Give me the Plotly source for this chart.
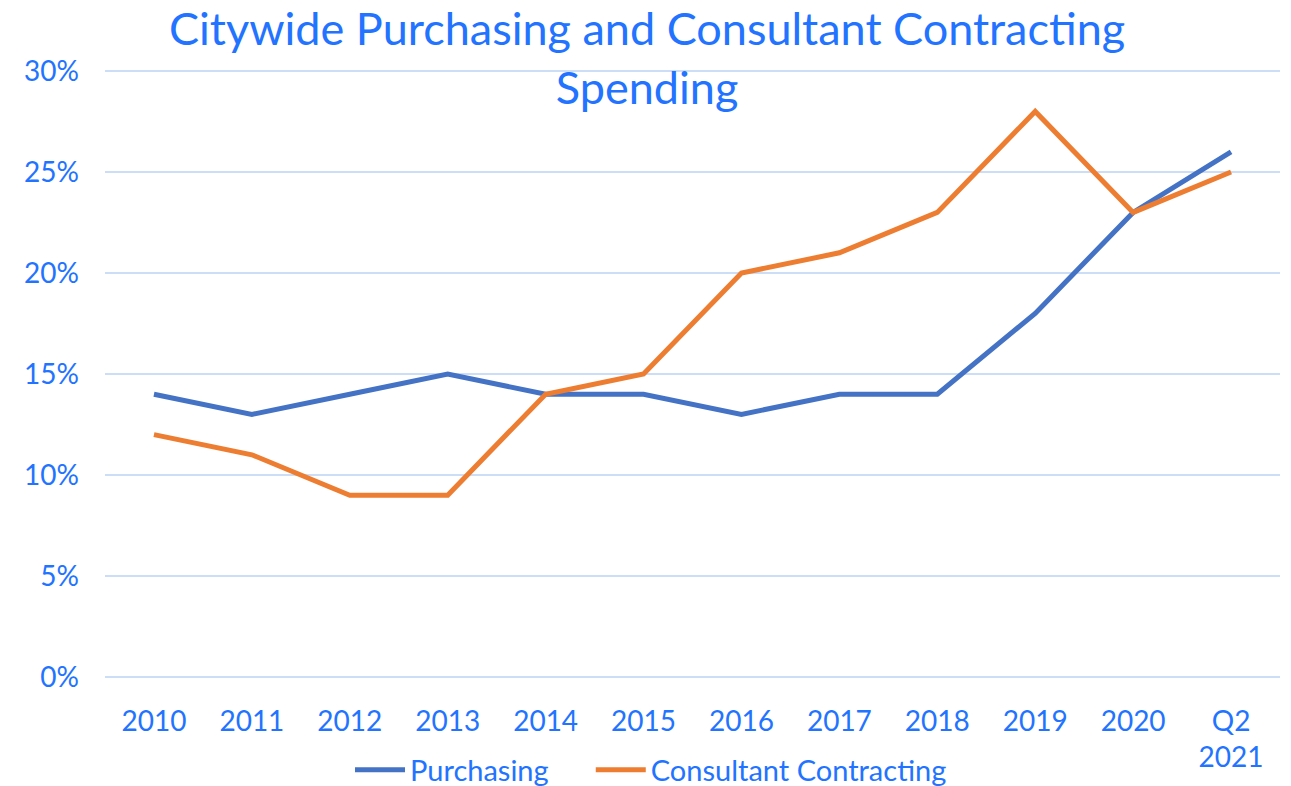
import plotly.graph_objects as go

categories = ["2010", "2011", "2012", "2013", "2014", "2015", "2016", "2017", "2018", "2019", "2020", "Q2<br>2021"]
purchasing = [14, 13, 14, 15, 14, 14, 13, 14, 14, 18, 23, 26]
consultant = [12, 11, 9, 9, 14, 15, 20, 21, 23, 28, 23, 25]
y_ticks = [0, 5, 10, 15, 20, 25, 30]
y_tick_labels = ["0%", "5%", "10%", "15%", "20%", "25%", "30%"]

TEXT = "#2273FF"
FONT = "Lato"

# page body has an 8px margin; figure coords = screen coords - 8
L, T, PW, PH = 97, 60, 1175, 612

fig = go.Figure()
fig.add_trace(go.Scatter(x=categories, y=purchasing, mode="lines",
                         name="Purchasing\u00a0\u00a0\u00a0\u00a0\u00a0",
                         line=dict(color="#4472C4", width=5)))
fig.add_trace(go.Scatter(x=categories, y=consultant, mode="lines", name="Consultant Contracting",
                         line=dict(color="#ED7D31", width=5)))

fig.add_annotation(text="Citywide Purchasing and Consultant Contracting<br>Spending",
                   xref="paper", yref="paper", x=(639 - L) / PW, y=(T + PH - 49) / PH,
                   xanchor="center", yanchor="middle", showarrow=False,
                   font=dict(family=FONT, size=45, color=TEXT))

fig.update_layout(
    width=1291, height=786,
    margin=dict(l=L, r=1291 - L - PW, t=T, b=786 - T - PH, autoexpand=False),
    paper_bgcolor="white", plot_bgcolor="white",
    font=dict(family=FONT, color=TEXT, size=28),
    xaxis=dict(type="category", range=[-0.5, 11.5], showgrid=False, showline=False, zeroline=False,
               automargin=False, ticks="", ticklabelstandoff=22, tickfont=dict(size=28, color=TEXT)),
    yaxis=dict(range=[-0.15, 30.15], tickvals=y_ticks, ticktext=y_tick_labels, showgrid=True,
               gridcolor="#CCDDF7", gridwidth=2, zeroline=False, showline=False, automargin=False,
               ticks="", ticklabelstandoff=25, tickfont=dict(size=28, color=TEXT)),
    legend=dict(orientation="h", x=(643 - L) / PW, xanchor="center", y=-(762 - T - PH) / PH,
                yanchor="middle", itemwidth=50, font=dict(size=29, color=TEXT),
                bgcolor="rgba(0,0,0,0)"),
    showlegend=True,
)

fig.write_html("out.html")
